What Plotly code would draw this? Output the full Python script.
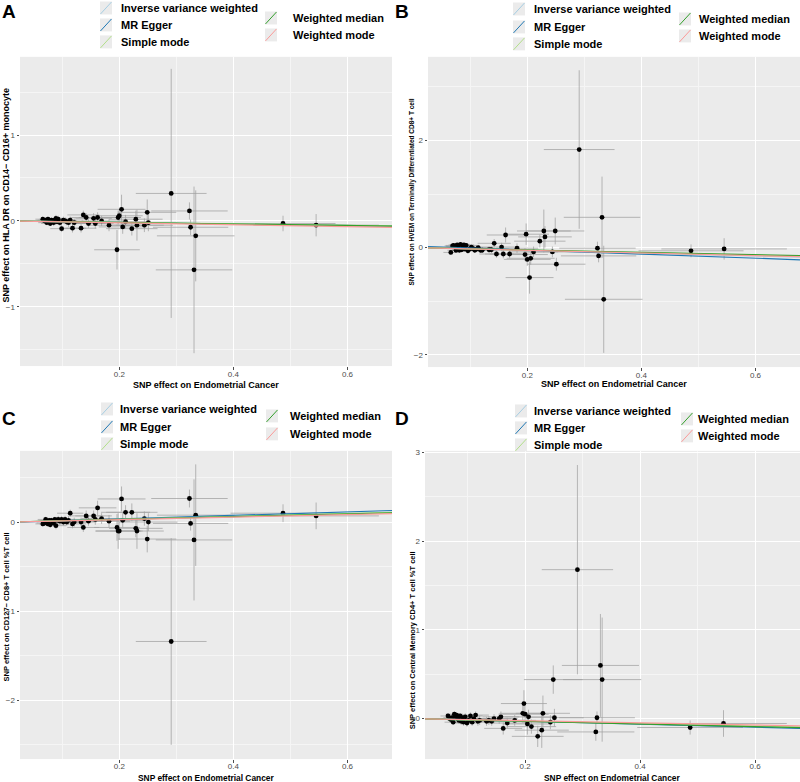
import plotly.graph_objects as go

W, H = 800, 782
FONT = "Liberation Sans, Arial, sans-serif"

# ---------------- data ----------------
x_beta = [0.066, 0.069, 0.071, 0.073, 0.075, 0.077, 0.079, 0.081, 0.083, 0.085, 0.087, 0.089,
          0.091, 0.093, 0.096, 0.099, 0.102, 0.105, 0.108, 0.111, 0.114, 0.118, 0.121,
          0.133, 0.137, 0.142, 0.146, 0.155, 0.158, 0.162, 0.169, 0.182, 0.196, 0.198, 0.200,
          0.204, 0.206, 0.211, 0.222, 0.229, 0.231, 0.244, 0.249, 0.251, 0.291, 0.323, 0.325,
          0.331, 0.334, 0.487, 0.545]
x_se = [0.013, 0.014, 0.014, 0.015, 0.015, 0.015, 0.016, 0.016, 0.017, 0.017, 0.018, 0.018,
        0.018, 0.019, 0.019, 0.020, 0.021, 0.021, 0.022, 0.022, 0.023, 0.024, 0.024,
        0.027, 0.028, 0.029, 0.030, 0.032, 0.032, 0.033, 0.035, 0.037, 0.040, 0.040, 0.041,
        0.042, 0.042, 0.043, 0.045, 0.047, 0.047, 0.050, 0.051, 0.051, 0.062, 0.067, 0.066,
        0.067, 0.068, 0.092, 0.110]

a_beta = [0.02, 0.00, 0.01, -0.02, 0.02, 0.01, -0.03, 0.01, 0.00, -0.02, 0.01, 0.03,
          -0.01, 0.02, -0.02, -0.09, 0.01, 0.00, -0.01, -0.02, 0.01, -0.085, -0.02,
          -0.085, 0.07, 0.04, -0.03, 0.03, -0.03, 0.04, 0.00, -0.05, -0.336, 0.04, 0.06,
          0.135, -0.07, -0.01, -0.09, 0.02, -0.05, -0.05, 0.10, -0.02, 0.32, 0.116, -0.074,
          -0.57, -0.174, -0.03, -0.05]
a_se = [0.03, 0.03, 0.03, 0.03, 0.03, 0.03, 0.03, 0.03, 0.03, 0.04, 0.03, 0.04,
        0.03, 0.04, 0.04, 0.04, 0.04, 0.04, 0.04, 0.05, 0.04, 0.05, 0.05,
        0.05, 0.05, 0.05, 0.05, 0.06, 0.06, 0.06, 0.06, 0.07, 0.23, 0.08, 0.08,
        0.17, 0.08, 0.08, 0.08, 0.10, 0.18, 0.08, 0.15, 0.10, 1.45, 0.10, 0.09,
        0.97, 0.53, 0.09, 0.13]

b_beta = [-0.09, 0.03, 0.04, 0.02, -0.05, 0.05, 0.03, -0.05, 0.06, -0.04, 0.02, 0.05,
          -0.03, 0.04, -0.06, -0.03, 0.01, -0.02, -0.05, -0.03, 0.00, -0.05, -0.05,
          -0.04, -0.04, 0.08, -0.12, 0.01, -0.12, 0.235, -0.12, -0.01, -0.13, 0.25, -0.22,
          -0.56, -0.20, -0.08, 0.12, 0.31, 0.20, -0.08, 0.31, -0.31, 1.83, -0.01, -0.155,
          0.565, -0.965, -0.06, -0.025]
b_se = [0.04, 0.03, 0.03, 0.03, 0.04, 0.03, 0.03, 0.04, 0.03, 0.04, 0.03, 0.04,
        0.04, 0.04, 0.05, 0.04, 0.04, 0.05, 0.05, 0.05, 0.05, 0.05, 0.05,
        0.06, 0.06, 0.08, 0.07, 0.08, 0.08, 0.14, 0.08, 0.09, 0.12, 0.20, 0.12,
        0.30, 0.12, 0.10, 0.12, 0.40, 0.20, 0.10, 0.25, 0.12, 1.48, 0.12, 0.12,
        0.76, 1.00, 0.12, 0.20]

c_beta = [-0.02, -0.01, 0.03, 0.01, -0.02, 0.02, -0.03, 0.02, 0.00, -0.01, 0.03, -0.04,
          0.02, 0.03, 0.01, 0.03, 0.00, 0.03, 0.00, 0.02, 0.10, -0.02, 0.00,
          0.00, -0.06, 0.07, 0.01, 0.07, 0.03, 0.16, 0.04, 0.01, -0.06, -0.10, -0.10,
          0.26, 0.02, 0.11, 0.11, -0.07, -0.10, 0.04, -0.19, 0.00, -1.34, 0.265, -0.015,
          -0.20, 0.078, 0.10, 0.07]
c_se = [0.03, 0.03, 0.03, 0.03, 0.03, 0.03, 0.03, 0.03, 0.03, 0.04, 0.03, 0.04,
        0.03, 0.04, 0.04, 0.04, 0.04, 0.04, 0.04, 0.05, 0.04, 0.05, 0.05,
        0.05, 0.05, 0.06, 0.05, 0.06, 0.06, 0.08, 0.06, 0.07, 0.15, 0.20, 0.10,
        0.14, 0.08, 0.08, 0.10, 0.10, 0.20, 0.08, 0.15, 0.10, 1.16, 0.10, 0.08,
        0.68, 0.57, 0.10, 0.15]

d_beta = [0.03, 0.00, -0.01, 0.01, -0.04, 0.05, 0.02, 0.04, 0.00, -0.02, 0.03, -0.03,
          0.01, -0.04, 0.02, -0.05, -0.02, 0.03, -0.04, 0.00, 0.04, -0.03, -0.02,
          -0.03, -0.02, -0.03, 0.00, 0.00, 0.02, -0.11, -0.05, -0.02, 0.06, 0.17, 0.05,
          -0.06, 0.02, -0.09, -0.20, -0.13, 0.06, -0.04, 0.44, 0.01, 1.68, -0.15, 0.01,
          0.60, 0.44, -0.10, -0.055]
d_se = [0.03, 0.03, 0.03, 0.03, 0.03, 0.03, 0.03, 0.03, 0.03, 0.04, 0.03, 0.04,
        0.03, 0.04, 0.04, 0.04, 0.04, 0.04, 0.04, 0.05, 0.04, 0.05, 0.05,
        0.05, 0.05, 0.05, 0.05, 0.06, 0.06, 0.07, 0.06, 0.06, 0.10, 0.15, 0.10,
        0.12, 0.08, 0.08, 0.12, 0.20, 0.20, 0.08, 0.16, 0.10, 1.18, 0.10, 0.07,
        0.58, 0.70, 0.08, 0.15]

methods = ["Inverse variance weighted", "MR Egger", "Simple mode", "Weighted median", "Weighted mode"]
method_colors = ["#A6CEE3", "#1F78B4", "#B2DF8A", "#33A02C", "#FB9A99"]
# slopes per method (same order as methods); MR Egger also has an intercept
a_slopes = [-0.088, -0.090, -0.085, -0.088, -0.110]
b_slopes = [-0.26, -0.38, -0.24, -0.22, -0.25]
c_slopes = [0.16, 0.20, 0.16, 0.155, 0.14]
d_slopes = [-0.14, -0.17, -0.14, -0.15, -0.12]
egger_intercepts = [0.0, 0.03, -0.005, 0.005]

y_titles = ["SNP effect on HLA DR on CD14\u2212 CD16+ monocyte",
            "SNP effect on HVEM on Terminally Differentiated CD8+ T cell",
            "SNP effect on CD127\u2212 CD8+ T cell %T cell",
            "SNP effect on Central Memory CD4+ T cell %T cell"]
x_title = "SNP effect on Endometrial Cancer"
panel_letters = ["A", "B", "C", "D"]
x_ticks = [0.2, 0.4, 0.6]

# ---------------- layout helpers ----------------
def px(x):
    return x / W

def py(y):
    return 1 - y / H

panels = [
    dict(beta=a_beta, se=a_se, slopes=a_slopes, x=(20, 392), y=(55, 365), yr=(-1.69, 1.91),
         ydt=1, letter=(9, 10), ytitle=(6, 194, 9), xtitle=(206, 384, 9), xstand=-2,
         legL=(100, 119, [6, 23, 40]), legR=(265, 291, [16, 33])),
    dict(beta=b_beta, se=b_se, slopes=b_slopes, x=(428, 800), y=(55, 366), yr=(-2.23, 3.56),
         ydt=2, letter=(402, 10), ytitle=(412, 191, 6.5), xtitle=(614, 383, 9), xstand=-2,
         legL=(513, 532, [7, 25, 42]), legR=(679, 697, [17, 34])),
    dict(beta=c_beta, se=c_se, slopes=c_slopes, x=(20, 392), y=(450, 759), yr=(-2.66, 0.80),
         ydt=1, letter=(9, 418), ytitle=(6, 607, 7.5), xtitle=(206, 778, 8.4), xstand=-3,
         legL=(101, 118, [408, 426, 443]), legR=(266, 288, [415, 433])),
    dict(beta=d_beta, se=d_se, slopes=d_slopes, x=(425, 800), y=(450, 759), yr=(-0.456, 3.02),
         ydt=1, letter=(402, 418), ytitle=(412, 640, 7.5), xtitle=(612, 778, 8.4), xstand=-3,
         legL=(515, 532, [410, 427, 444]), legR=(681, 696, [418, 435])),
]
XR = (0.026, 0.678)

fig = go.Figure()
shapes = []
annotations = []
layout_axes = {}

for i, p in enumerate(panels):
    sfx = "" if i == 0 else str(i + 1)
    xa, ya = "x" + sfx, "y" + sfx
    # error bars + points
    fig.add_trace(go.Scatter(
        x=x_beta, y=p["beta"], mode="markers", xaxis=xa, yaxis=ya, showlegend=False,
        marker=dict(color="black", size=4.8),
        error_x=dict(type="data", array=x_se, color="rgba(160,160,160,0.75)", thickness=1, width=0),
        error_y=dict(type="data", array=p["se"], color="rgba(160,160,160,0.75)", thickness=1, width=0),
    ))
    # method lines across the panel
    for k, (m, col) in enumerate(zip(methods, method_colors)):
        icpt = egger_intercepts[i] if m == "MR Egger" else 0.0
        xs = [XR[0], XR[1]]
        ys = [icpt + p["slopes"][k] * v for v in xs]
        fig.add_trace(go.Scatter(x=xs, y=ys, mode="lines", xaxis=xa, yaxis=ya, showlegend=False,
                                 line=dict(color=col, width=1.2), hoverinfo="skip"))
    axis_common = dict(showline=False, zeroline=False, ticks="outside", ticklen=2.5,
                       tickcolor="#4d4d4d", tickwidth=1,
                       tickfont=dict(family=FONT, size=8, color="#4d4d4d"),
                       showgrid=True, gridcolor="white", gridwidth=1)
    layout_axes["xaxis" + sfx] = dict(axis_common, domain=[px(p["x"][0]), px(p["x"][1])],
                                      anchor=ya, range=list(XR), tickvals=x_ticks,
                                      ticktext=[str(t) for t in x_ticks], ticklabelstandoff=p["xstand"],
                                      minor=dict(showgrid=True, gridcolor="#f5f5f5", gridwidth=0.6,
                                                 tickvals=[0.1, 0.3, 0.5], ticks=""))
    yt = p["ydt"]
    layout_axes["yaxis" + sfx] = dict(axis_common, domain=[py(p["y"][1]), py(p["y"][0])],
                                      anchor=xa, range=list(p["yr"]), dtick=yt, tick0=0,
                                      minor=dict(showgrid=True, gridcolor="#f5f5f5", gridwidth=0.6,
                                                 dtick=yt / 2, tick0=0, ticks=""))
    # titles
    annotations.append(dict(text="<b>%s</b>" % y_titles[i], x=px(p["ytitle"][0]), y=py(p["ytitle"][1]),
                            xref="paper", yref="paper", textangle=-90, showarrow=False,
                            xanchor="center", yanchor="middle",
                            font=dict(family=FONT, size=p["ytitle"][2], color="black")))
    annotations.append(dict(text="<b>%s</b>" % x_title, x=px(p["xtitle"][0]), y=py(p["xtitle"][1]),
                            xref="paper", yref="paper", showarrow=False,
                            xanchor="center", yanchor="middle",
                            font=dict(family=FONT, size=p["xtitle"][2], color="black")))
    annotations.append(dict(text="<b>%s</b>" % panel_letters[i], x=px(p["letter"][0]), y=py(p["letter"][1]),
                            xref="paper", yref="paper", showarrow=False,
                            xanchor="center", yanchor="middle",
                            font=dict(family=FONT, size=19, color="black")))
    # manual legend (two columns)
    items = [(p["legL"], j) for j in range(3)] + [(p["legR"], j) for j in range(2)]
    for k, (leg, j) in enumerate(items):
        kx, tx, rows = leg
        cy = rows[j]
        x0, x1 = kx, kx + 12
        y0, y1 = cy - 6.5, cy + 6.5
        shapes.append(dict(type="rect", xref="paper", yref="paper", x0=px(x0), x1=px(x1),
                           y0=py(y1), y1=py(y0), fillcolor="#ebebeb", line=dict(width=0)))
        shapes.append(dict(type="line", xref="paper", yref="paper", x0=px(x0 + 0.5), x1=px(x1 - 0.5),
                           y0=py(y1 - 0.5), y1=py(y0 + 0.5),
                           line=dict(color=method_colors[k], width=1)))
        annotations.append(dict(text="<b>%s</b>" % methods[k], x=px(tx), y=py(cy), xref="paper",
                                yref="paper", showarrow=False, xanchor="left", yanchor="middle",
                                font=dict(family=FONT, size=11, color="black")))

fig.update_layout(
    width=W, height=H, margin=dict(l=0, r=0, t=0, b=0),
    paper_bgcolor="white", plot_bgcolor="#ebebeb",
    showlegend=False, shapes=shapes, annotations=annotations,
    font=dict(family=FONT),
    **layout_axes,
)
fig.write_html("out.html", config={"displayModeBar": False},
               post_script="document.body.style.margin='0px';document.body.style.overflow='hidden';")
